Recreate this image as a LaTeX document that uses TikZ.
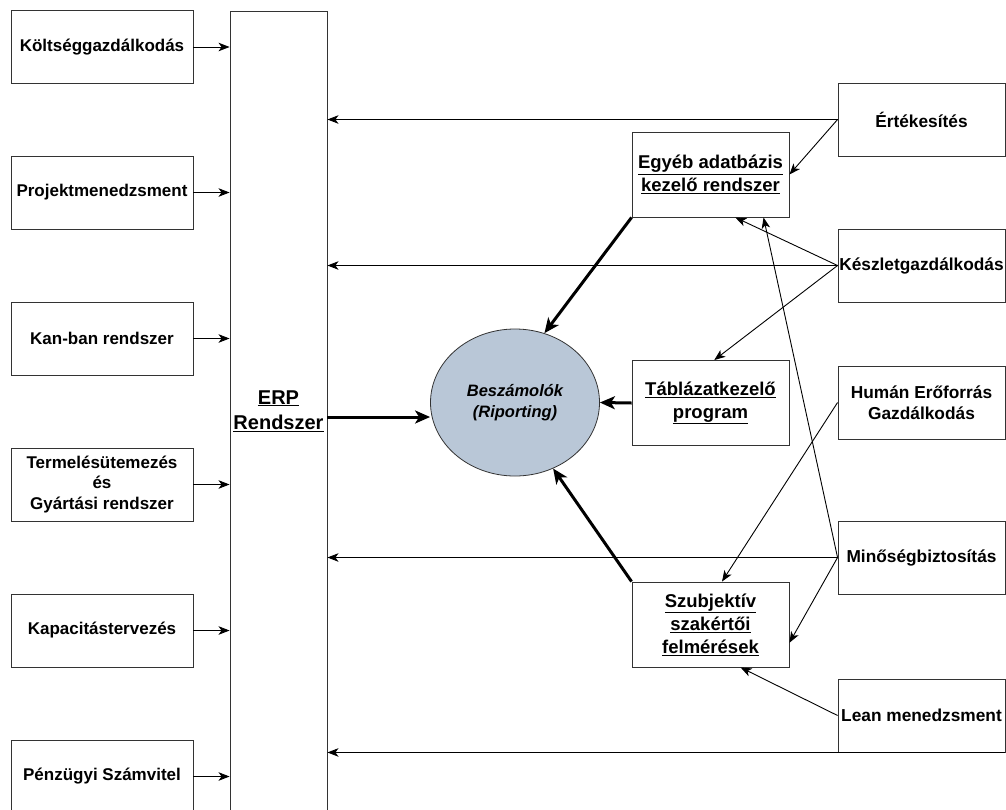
\documentclass[tikz,border=0pt]{standalone}
\usepackage{fontspec}
\setmainfont{Liberation Sans}
\usetikzlibrary{arrows.meta,shapes.geometric}
\definecolor{repfill}{RGB}{185,199,215}
\definecolor{edge}{RGB}{51,51,51}

\begin{document}
\begin{tikzpicture}[
    x=1pt, y=-1pt,
    box/.style={draw=edge, line width=0.9pt, align=center, inner sep=0pt},
    lbox/.style={box, minimum width=182pt, minimum height=73pt,
      font=\fontsize{17}{20.5}\selectfont\bfseries},
    rbox/.style={box, minimum width=167pt, minimum height=73pt,
      font=\fontsize{17.3}{20.5}\selectfont\bfseries},
    mbox/.style={box, minimum width=157pt, minimum height=85pt,
      font=\fontsize{18.5}{23}\selectfont\bfseries},
    erpbox/.style={box, minimum width=97pt, minimum height=800pt,
      font=\fontsize{20}{25}\selectfont\bfseries},
    report/.style={ellipse, draw=edge, line width=0.8pt, fill=repfill,
      minimum width=169pt, minimum height=147pt, inner sep=0pt, align=center,
      font=\fontsize{16.5}{21.5}\selectfont\bfseries\itshape},
    link/.style={draw=black, line width=0.9pt,
      -{Stealth[length=11pt,width=8.5pt,inset=3pt]}},
    flow/.style={draw=black, line width=3pt,
      -{Stealth[length=15pt,width=13pt,inset=4pt]}}
]
\useasboundingbox (0,0) rectangle (1006,809);
\clip (0,0) rectangle (1006,809);

\node[erpbox] (erp) at (278.5,411) {\underline{ERP}\\\underline{Rendszer}};

\foreach \n/\t/\y in {kolt/Költséggazdálkodás/47, proj/Projektmenedzsment/192.5,
    kan/Kan-ban rendszer/338.5, term/{Termelésütemezés\\és\\Gyártási rendszer}/484.5,
    kap/Kapacitástervezés/630.5, penz/Pénzügyi Számvitel/776.5}{
  \node[lbox] (\n) at (102,\y) {\t};
  \draw[link] (\n.east) -- (\n.east -| erp.west);
}

\node[report] (rep) at (515,402.5) {Beszámolók\\(Riporting)};

\node[mbox] (egy) at (710.5,174.5) {\underline{Egyéb adatbázis}\\\underline{kezelő rendszer}};
\node[mbox] (tab) at (710.5,403) {\underline{Táblázatkezelő}\\\underline{program}};
\node[mbox] (szu) at (710.5,624.5) {\underline{Szubjektív}\\\underline{szakértői}\\\underline{felmérések}};

\node[rbox] (ert) at (921.5,119.5) {Értékesítés};
\node[rbox] (kesz) at (921.5,265.5) {Készletgazdálkodás};
\node[rbox] (hum) at (921.5,402.5) {Humán Erőforrás\\Gazdálkodás};
\node[rbox] (min) at (921.5,557.5) {Minőségbiztosítás};
\node[rbox] (lean) at (921.5,715.5) {Lean menedzsment};

\draw[link] (ert.west) -- (ert.west -| erp.east);
\draw[link] (kesz.west) -- (kesz.west -| erp.east);
\draw[link] (min.west) -- (min.west -| erp.east);
\draw[link] (lean.south east) -- (lean.south east -| erp.east);

\draw[link] (ert.west) -- (egy.east);
\draw[link] (kesz.west) -- (egy.-60);
\draw[link] (kesz.west) -- (tab.85);
\draw[link] (min.west) -- (egy.-39);
\draw[link] (min.west) -- (szu.-13);
\draw[link] (hum.west) -- (szu.75);
\draw[link] (lean.west) -- (szu.-55);

\draw[flow] ([yshift=-6pt]erp.east) -- ([yshift=-6pt]erp.east -| rep.west);
\draw[flow] (egy.south west) -- (rep.67);
\draw[flow] (tab.west) -- (rep.east);
\draw[flow] (szu.north west) -- (rep.-60);

\end{tikzpicture}
\end{document}
